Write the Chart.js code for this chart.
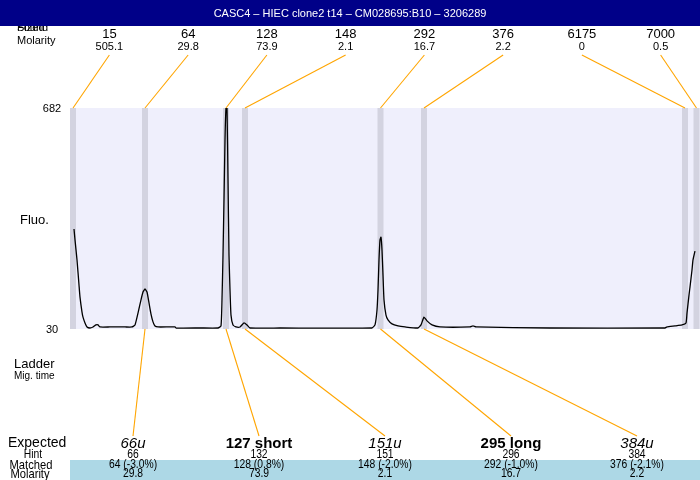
<!DOCTYPE html>
<html>
<head>
<meta charset="utf-8">
<title>CASC4 – HIEC clone2 t14</title>
<script src="https://cdn.jsdelivr.net/npm/chart.js@4.4.1/dist/chart.umd.min.js"></script>
<style>
  html, body { margin: 0; padding: 0; background: #fff; }
  canvas { display: block; }
</style>
</head>
<body>
<canvas id="electro" width="700" height="480"></canvas>
<script>
const titleText = 'CASC4 – HIEC clone2 t14 – CM028695:B10 – 3206289';

// electropherogram trace: migration time offset / fluorescence
const traceTime = [4, 5, 7, 9, 10, 12, 13, 15, 17, 20, 23, 26, 28, 30, 40, 55, 62, 65, 68, 71, 73, 75, 77, 79, 81, 83, 85, 88,
  105, 106, 130, 148, 151, 152, 153, 154, 155, 156, 157, 158, 159, 160, 161, 163, 166, 170, 174, 177, 180, 210,
  302, 305, 307, 308, 309, 310, 311, 312, 313, 314, 316, 318, 322, 328, 335, 348, 351, 354, 357, 362, 370,
  400, 403, 406, 480, 595, 597, 605, 612, 616, 617, 619, 620, 622, 623, 625];
const traceFluo = [325, 293, 234, 160, 124, 80, 65, 48, 36, 33, 36, 42, 42, 36, 36, 36, 36, 42, 77, 116, 139, 148, 139, 107, 74, 51, 39, 36,
  36, 33, 33, 33, 39, 116, 248, 411, 588, 682, 682, 470, 248, 145, 71, 42, 36, 36, 48, 42, 33, 33,
  33, 42, 86, 145, 234, 293, 301, 263, 189, 116, 71, 57, 45, 39, 36, 33, 42, 65, 54, 42, 36,
  36, 39, 36, 33, 33, 36, 39, 42, 48, 77, 130, 154, 204, 234, 260];

// peaks found by the sizing
const peakSizes = [15, 64, 128, 148, 292, 376, 6175, 7000];
const peakMolarity = ['505.1', '29.8', '73.9', '2.1', '16.7', '2.2', '0', '0.5'];
const peakTimes = [3, 75, 156, 175, 310.5, 354, 615, 626.5];

// expected fragments and the peaks they were matched to
const expectedLabels = ['66u', '127 short', '151u', '295 long', '384u'];
const expectedBold = [false, true, false, true, false];
const hintSizes = [66, 132, 151, 296, 384];
const matchedPeak = [1, 2, 3, 4, 5];
const matchedDev = ['-3.0%', '0.8%', '-2.0%', '-1.0%', '-2.1%'];

const yTicks = [30, 682];

const FONT = '"Liberation Sans", Arial, sans-serif';
const ORANGE = '#ffa500';

function txt(ctx, s, x, y, size, style, align) {
    ctx.font = (style || '') + ' ' + size + 'px ' + FONT;
    ctx.fillStyle = '#000';
    ctx.textAlign = align || 'center';
    ctx.textBaseline = 'middle';
    ctx.fillText(s, x, y);
}

// narrow text for the table rows at the bottom
function narrow(ctx, s, x, y, size) {
    ctx.save();
    ctx.translate(x, y);
    ctx.scale(0.86, 1);
    txt(ctx, s, 0, 0, size);
    ctx.restore();
}

function line(ctx, x0, y0, x1, y1) {
    ctx.beginPath();
    ctx.moveTo(x0, y0);
    ctx.lineTo(x1, y1);
    ctx.stroke();
}

const electroPlugin = {
    id: 'electro',
    beforeDatasetsDraw(chart) {
        const { ctx, chartArea: a, scales: { x } } = chart;
        ctx.save();
        ctx.fillStyle = '#efeffc';
        ctx.fillRect(a.left, a.top, a.width, a.height);
        // peak bands
        ctx.fillStyle = '#d3d3e0';
        peakTimes.forEach(t => {
            const x0 = x.getPixelForValue(t - 3);
            const x1 = x.getPixelForValue(t + 3);
            ctx.fillRect(x0, a.top, x1 - x0, a.height);
        });
        ctx.restore();
    },
    afterDraw(chart) {
        const { ctx, chartArea: a, scales: { x, y } } = chart;
        ctx.save();

        // top rows: sizes and molarity
        txt(ctx, 'Found', 17, 28, 11, '', 'left');
        txt(ctx, 'Sized', 17, 28, 11, '', 'left');
        txt(ctx, 'Molarity', 17, 41, 11, '', 'left');
        ctx.strokeStyle = ORANGE;
        ctx.lineWidth = 1.1;
        peakSizes.forEach((s, i) => {
            const lx = a.left + a.width * (i + 0.5) / peakSizes.length;
            txt(ctx, String(s), lx, 34, 13);
            txt(ctx, peakMolarity[i], lx, 47, 11);
            line(ctx, lx, 55, x.getPixelForValue(peakTimes[i]), a.top);
        });

        // y axis
        yTicks.forEach(v => txt(ctx, String(v), 52, y.getPixelForValue(v) + 1, 11));
        txt(ctx, 'Fluo.', 20, 220, 13, '', 'left');
        txt(ctx, 'Ladder', 14, 364, 13, '', 'left');
        txt(ctx, 'Mig. time', 14, 376, 10, '', 'left');

        // matched band
        ctx.fillStyle = '#add8e6';
        ctx.fillRect(a.left, 460, a.width, 20);

        txt(ctx, 'Expected', 8, 443, 14, '', 'left');
        narrow(ctx, 'Hint', 33, 455, 12);
        narrow(ctx, 'Matched', 31, 465, 13);
        narrow(ctx, 'Molarity', 30, 474, 13);

        ctx.strokeStyle = ORANGE;
        expectedLabels.forEach((lab, i) => {
            const lx = a.left + a.width * (i + 0.5) / expectedLabels.length;
            const p = matchedPeak[i];
            line(ctx, x.getPixelForValue(peakTimes[p]), a.bottom, lx, 436);
            txt(ctx, lab, lx, 444, 15, expectedBold[i] ? 'bold' : 'italic');
            narrow(ctx, String(hintSizes[i]), lx, 455, 12);
            narrow(ctx, peakSizes[p] + ' (' + matchedDev[i] + ')', lx, 465, 12);
            narrow(ctx, peakMolarity[p], lx, 474, 12);
        });

        // title bar
        ctx.fillStyle = '#000088';
        ctx.fillRect(0, 0, chart.width, 26);
        ctx.font = '11px ' + FONT;
        ctx.fillStyle = '#fff';
        ctx.textAlign = 'center';
        ctx.textBaseline = 'middle';
        ctx.fillText(titleText, chart.width / 2, 14);

        ctx.restore();
    }
};

new Chart(document.getElementById('electro'), {
    type: 'line',
    data: {
        datasets: [{
            data: traceTime.map((t, i) => ({ x: t, y: traceFluo[i] })),
            borderColor: '#000',
            borderWidth: 1.3,
            pointRadius: 0,
            tension: 0.15,
            fill: false
        }]
    },
    options: {
        responsive: false,
        animation: false,
        devicePixelRatio: 1,
        layout: { padding: { left: 70, right: 0, top: 108, bottom: 151 } },
        scales: {
            x: { type: 'linear', min: 0, max: 630, display: false },
            y: { min: 30, max: 682, display: false }
        },
        plugins: {
            legend: { display: false },
            tooltip: { enabled: false }
        }
    },
    plugins: [electroPlugin]
});
</script>
</body>
</html>
